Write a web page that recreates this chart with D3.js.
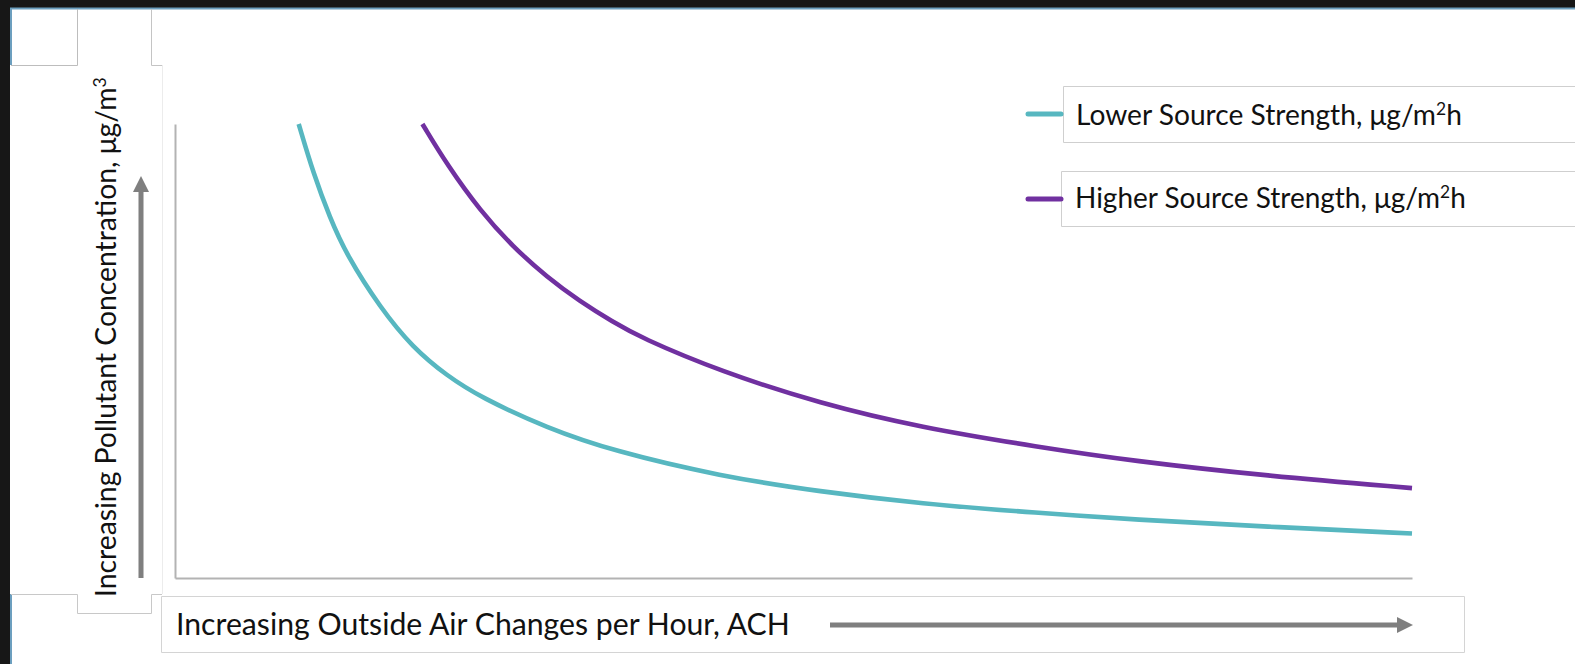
<html>
<head>
<script src="https://d3js.org/d3.v7.min.js"></script>
<style>
  body { margin: 0; background: #171717; overflow: hidden; }
  text { font-family: Lato, "Open Sans", sans-serif; fill: #111; }
</style>
</head>
<body>
<svg id="chart" width="1575" height="664"></svg>
<script>
// values (ACH vs concentration, arbitrary units)
const lowerAch = [1.0, 1.12, 1.25, 1.39, 1.66, 1.92, 2.2, 2.47, 3.01, 3.54, 4.41, 5.22, 6.02, 6.99, 7.74, 8.82, 10];
const lowerConc = [10.0, 8.9, 7.95, 7.1, 5.95, 5.08, 4.45, 3.98, 3.3, 2.8, 2.24, 1.9, 1.64, 1.43, 1.29, 1.13, 0.98];
const higherAch = [2.0, 2.2, 2.47, 2.73, 3.01, 3.27, 3.54, 3.76, 4.41, 5.22, 6.02, 6.99, 7.74, 8.82, 10];
const higherConc = [10.0, 9.1, 8.08, 7.3, 6.62, 6.1, 5.64, 5.3, 4.55, 3.84, 3.32, 2.88, 2.58, 2.25, 1.98];

const seriesNames = ['Lower Source Strength', 'Higher Source Strength'];
const seriesColors = ['#57b7c0', '#7030a0'];
const xTitle = 'Increasing Outside Air Changes per Hour, ACH';
const yTitle = 'Increasing Pollutant Concentration, μg/m';

const svg = d3.select('svg#chart');

const x = d3.scaleLinear().domain([0, 10]).range([175, 1412]);
const y = d3.scaleLinear().domain([0, 10]).range([578, 124]);

// slide-ish background
svg.append('rect').attr('x', 10).attr('y', 8).attr('width', 1565).attr('height', 656).attr('fill', '#fff');
svg.append('line').attr('x1', 10).attr('x2', 1575).attr('y1', 8.5).attr('y2', 8.5)
   .attr('stroke', '#6c9fbf').attr('stroke-width', 2);
svg.append('line').attr('x1', 11).attr('x2', 11).attr('y1', 8).attr('y2', 65)
   .attr('stroke', '#6c9fbf').attr('stroke-width', 2);
svg.append('line').attr('x1', 11).attr('x2', 11).attr('y1', 594).attr('y2', 664)
   .attr('stroke', '#6c9fbf').attr('stroke-width', 2);

const boxes = svg.append('g').attr('fill', 'none').attr('stroke-width', 1);
const seg = (p, c) => boxes.append('path').attr('d', p).attr('stroke', c);
seg('M11,65.5H77.5V9', '#bdbdbd');
seg('M151.5,9V65.5H162', '#c4c4c4');
seg('M162.5,65V594', '#ececec');
seg('M11,594.5H77.5V613.5H151.5V594.5H162', '#c8c8c8');
seg('M1575,86.5H1063.5V142.5H1575', '#cfcfcf');
seg('M1575,171.5H1061.5V226.5H1575', '#cfcfcf');
seg('M161.5,596.5H1464.5V652.5H161.5Z', '#d4d4d4');

// axes (no ticks)
svg.append('g').attr('transform', 'translate(0,578)')
   .call(d3.axisBottom(x).tickValues([]).tickSizeOuter(0))
   .call(g => g.select('.domain').attr('stroke', '#b3b3b3').attr('stroke-width', 2));
svg.append('g').attr('transform', 'translate(175,0)')
   .call(d3.axisLeft(y).tickValues([]).tickSizeOuter(0))
   .call(g => g.select('.domain').attr('stroke', '#b3b3b3').attr('stroke-width', 2));

// curves
const series = [
  { ach: lowerAch, conc: lowerConc },
  { ach: higherAch, conc: higherConc }
];
const line = d3.line().x(d => x(d[0])).y(d => y(d[1])).curve(d3.curveBasis);
series.forEach((s, i) => {
  svg.append('path')
     .datum(s.ach.map((a, j) => [a, s.conc[j]]))
     .attr('d', line)
     .attr('fill', 'none')
     .attr('stroke', seriesColors[i])
     .attr('stroke-width', 4.6);
});

// helper: scale font so text spans a given width
function fit(t, w) {
  const L = t.node().getComputedTextLength();
  t.attr('font-size', parseFloat(t.attr('font-size')) * w / L);
}

// legend
const legY = [114, 199];
const legBase = [125, 208];
const legX = [1076, 1075];
const legW = [386, 391];
seriesNames.forEach((name, i) => {
  svg.append('line').attr('x1', 1028).attr('x2', 1061).attr('y1', legY[i]).attr('y2', legY[i])
     .attr('stroke', seriesColors[i]).attr('stroke-width', 5).attr('stroke-linecap', 'round');
  const t = svg.append('text').attr('x', legX[i]).attr('y', legBase[i]).attr('font-size', 30);
  t.append('tspan').text(name + ', μg/m');
  t.append('tspan').attr('font-size', '0.62em').attr('baseline-shift', 'super').text('2');
  t.append('tspan').text('h');
  fit(t, legW[i]);
});

// x title + arrow
const xt = svg.append('text').attr('x', 176).attr('y', 635).attr('font-size', 27).text(xTitle);
fit(xt, 614);
svg.append('line').attr('x1', 830).attr('x2', 1398).attr('y1', 625).attr('y2', 625)
   .attr('stroke', '#7f7f7f').attr('stroke-width', 5);
svg.append('path').attr('d', 'M1397,617L1413,625L1397,633Z').attr('fill', '#7f7f7f');

// y title + arrow
const yt = svg.append('text').attr('transform', 'translate(116,597) rotate(-90)').attr('font-size', 30);
yt.append('tspan').text(yTitle);
yt.append('tspan').attr('font-size', '0.62em').attr('baseline-shift', 'super').text('3');
fit(yt, 520);
svg.append('line').attr('x1', 141).attr('x2', 141).attr('y1', 578).attr('y2', 191)
   .attr('stroke', '#7f7f7f').attr('stroke-width', 5);
svg.append('path').attr('d', 'M133,192L141,176L149,192Z').attr('fill', '#7f7f7f');
</script>
</body>
</html>
